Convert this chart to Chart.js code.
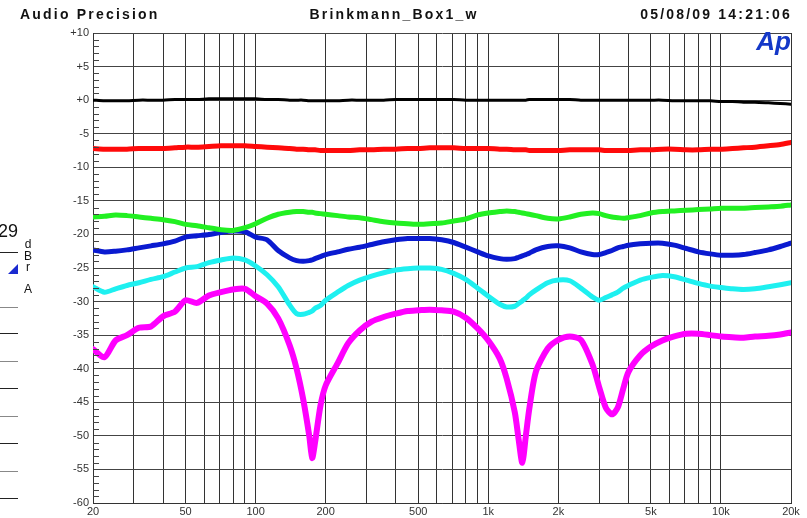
<!DOCTYPE html>
<html lang="en">
<head>
    <meta charset="UTF-8">
    <title>Brinkmann_Box1_w</title>
    <style>
        body {
            margin: 0;
            background: #fff;
            font-family: "Liberation Sans", Arial, sans-serif;
        }
        #wrap {
            position: relative;
            width: 807px;
            height: 518px;
        }
    </style>
</head>
<body>
    <div id="wrap">
        <canvas id="myChart" width="807" height="518"></canvas>
    </div>

    <script src="https://cdn.jsdelivr.net/npm/chart.js"></script>
    <script>
        // frequency points (Hz)
        const freqs = [20, 22.4, 25, 28, 31.5, 35.5, 40, 45, 50, 56, 63, 71, 80, 90, 100, 112, 125, 140, 150, 160,
            170, 175, 180, 190, 200, 225, 250, 280, 315, 355, 400, 450, 500, 560, 630, 710, 800, 900, 1000, 1120,
            1200, 1300, 1350, 1400, 1450, 1500, 1600, 1800, 2000, 2240, 2500, 2800, 3000, 3200, 3400, 3600, 3800, 4000,
            4500, 5000, 5600, 6300, 7100, 8000, 9000, 10000, 11200, 12500, 14000, 16000, 18000, 20000];

        // levels (dBr)
        const blackLevel = [0.0, -0.1, -0.1, -0.1, 0.0, 0.0, 0.0, 0.1, 0.1, 0.1, 0.2, 0.2, 0.2, 0.2, 0.2, 0.1, 0.1, 0.0, 0.0, 0.0,
            -0.1, -0.1, -0.1, -0.1, -0.1, -0.1, 0.0, 0.0, 0.0, 0.0, 0.1, 0.1, 0.1, 0.1, 0.1, 0.1, 0.0, 0.0, 0.0, 0.0,
            0.0, 0.0, 0.0, 0.0, 0.0, 0.1, 0.1, 0.1, 0.1, 0.1, 0.0, 0.0, 0.0, 0.0, 0.0, 0.0, 0.0, 0.0,
            0.0, 0.0, 0.0, -0.1, -0.1, -0.1, -0.1, -0.2, -0.2, -0.3, -0.3, -0.4, -0.5, -0.6];
        const redLevel = [-7.2, -7.3, -7.3, -7.3, -7.2, -7.2, -7.2, -7.1, -7.0, -7.0, -6.9, -6.8, -6.8, -6.8, -6.9, -7.0, -7.1, -7.2, -7.3, -7.3,
            -7.4, -7.4, -7.4, -7.5, -7.5, -7.5, -7.5, -7.4, -7.4, -7.3, -7.3, -7.2, -7.2, -7.1, -7.1, -7.1, -7.2, -7.2, -7.2, -7.3,
            -7.3, -7.4, -7.4, -7.4, -7.4, -7.5, -7.5, -7.5, -7.5, -7.4, -7.4, -7.4, -7.4, -7.5, -7.5, -7.5, -7.5, -7.5,
            -7.4, -7.4, -7.3, -7.3, -7.4, -7.4, -7.3, -7.3, -7.2, -7.1, -7.0, -6.8, -6.6, -6.3];
        const greenLevel = [-17.4, -17.3, -17.1, -17.2, -17.4, -17.6, -17.8, -18.1, -18.5, -18.7, -19.0, -19.3, -19.4, -19.0, -18.4, -17.6, -17.0, -16.7, -16.6, -16.6,
            -16.7, -16.7, -16.8, -16.9, -17.0, -17.2, -17.4, -17.5, -17.8, -18.1, -18.3, -18.4, -18.5, -18.4, -18.3, -18.0, -17.7, -17.1, -16.8, -16.6,
            -16.5, -16.6, -16.7, -16.8, -16.9, -17.0, -17.2, -17.6, -17.7, -17.4, -17.0, -16.8, -16.9, -17.2, -17.4, -17.5, -17.6, -17.5,
            -17.2, -16.8, -16.6, -16.5, -16.4, -16.3, -16.2, -16.1, -16.1, -16.1, -16.0, -15.9, -15.8, -15.6];
        const blueLevel = [-22.3, -22.6, -22.5, -22.3, -22.0, -21.7, -21.4, -21.0, -20.4, -20.2, -20.0, -19.7, -19.5, -19.6, -20.4, -20.8, -22.4, -23.5, -23.9, -24.0,
            -23.9, -23.8, -23.6, -23.3, -23.0, -22.6, -22.2, -21.9, -21.5, -21.1, -20.8, -20.6, -20.6, -20.6, -20.8, -21.2, -21.9, -22.6, -23.2, -23.6,
            -23.7, -23.6, -23.4, -23.2, -23.0, -22.8, -22.3, -21.8, -21.7, -22.0, -22.6, -23.0, -23.0, -22.7, -22.4, -22.0, -21.8, -21.6,
            -21.4, -21.3, -21.3, -21.6, -22.1, -22.6, -22.9, -23.1, -23.1, -23.0, -22.7, -22.3, -21.8, -21.3];
        const cyanLevel = [-27.8, -28.6, -28.1, -27.6, -27.2, -26.7, -26.3, -25.6, -25.0, -24.8, -24.2, -23.8, -23.5, -23.8, -24.7, -26.0, -27.8, -30.5, -31.8, -31.9,
            -31.6, -31.4, -31.0, -30.6, -29.8, -28.6, -27.6, -26.8, -26.2, -25.7, -25.3, -25.1, -25.0, -25.0, -25.2, -25.8, -26.7, -28.0, -29.2, -30.4,
            -30.8, -30.7, -30.3, -29.9, -29.5, -29.0, -28.3, -27.2, -26.8, -26.9, -28.0, -29.3, -29.8, -29.4, -29.0, -28.6, -28.0, -27.6,
            -26.8, -26.4, -26.1, -26.3, -26.8, -27.3, -27.7, -27.9, -28.1, -28.2, -28.1, -27.8, -27.5, -27.2];
        const magentaLevel = [-37.1, -38.3, -35.8, -35.0, -33.9, -33.7, -32.2, -31.5, -29.8, -30.2, -29.1, -28.6, -28.2, -28.1, -29.2, -30.3, -32.5, -36.5, -40.0, -44.5,
            -50.0, -53.3, -51.0, -45.5, -42.5, -39.2, -36.2, -34.3, -33.0, -32.3, -31.8, -31.4, -31.3, -31.2, -31.3, -31.5, -32.4, -34.0, -35.8, -38.5,
            -41.5, -46.5, -50.5, -54.0, -50.0, -46.0, -40.5, -37.0, -35.7, -35.2, -35.7, -39.3, -42.8, -45.8, -46.8, -45.8, -43.0, -40.5,
            -38.0, -36.7, -35.8, -35.2, -34.8, -34.8, -35.0, -35.2, -35.3, -35.4, -35.2, -35.1, -34.9, -34.6];

        // axis ticks
        const xGridTicks = [20, 30, 40, 50, 60, 70, 80, 90, 100, 200, 300, 400, 500, 600, 700, 800, 900,
            1000, 2000, 3000, 4000, 5000, 6000, 7000, 8000, 9000, 10000, 20000];
        const xLabels = {20: '20', 50: '50', 100: '100', 200: '200', 500: '500', 1000: '1k', 2000: '2k',
            5000: '5k', 10000: '10k', 20000: '20k'};

        const FONT = '"Liberation Sans", Arial, sans-serif';

        function series(levels, color, width) {
            return {
                data: freqs.map((f, i) => ({ x: f, y: levels[i] })),
                borderColor: color,
                borderWidth: width,
                pointRadius: 0,
                tension: 0.25,
                borderCapStyle: 'round',
                borderJoinStyle: 'round',
                fill: false
            };
        }

        // header text, Ap logo, minor ticks and the cut-off panel on the left
        const decor = {
            id: 'decor',
            afterDraw(chart) {
                const ctx = chart.ctx;
                const y = chart.scales.y;
                const area = chart.chartArea;
                ctx.save();

                // minor ticks every 1 dB, inside the plot
                ctx.strokeStyle = '#444';
                ctx.lineWidth = 1;
                for (let v = -60; v <= 10; v++) {
                    if (v % 5 === 0) continue;
                    const py = Math.round(y.getPixelForValue(v)) + 0.5;
                    ctx.beginPath();
                    ctx.moveTo(area.left, py);
                    ctx.lineTo(area.left + 6, py);
                    ctx.stroke();
                }

                ctx.fillStyle = '#111';
                ctx.textBaseline = 'middle';
                ctx.font = 'bold 14px ' + FONT;
                ctx.letterSpacing = '2.2px';
                ctx.textAlign = 'left';
                ctx.fillText('Audio Precision', 20, 15);
                ctx.textAlign = 'center';
                ctx.fillText('Brinkmann_Box1_w', 394, 15);
                ctx.textAlign = 'right';
                ctx.fillText('05/08/09 14:21:06', 792, 15);
                ctx.letterSpacing = '0px';

                ctx.fillStyle = '#1438c8';
                ctx.font = 'italic bold 26px ' + FONT;
                ctx.textAlign = 'right';
                ctx.fillText('Ap', 791, 43);

                // remains of the panel cut off at the left edge
                ctx.fillStyle = '#111';
                ctx.font = '18px ' + FONT;
                ctx.textAlign = 'left';
                ctx.fillText('29', -2, 232);
                ctx.font = '12px ' + FONT;
                ctx.textAlign = 'center';
                ctx.fillText('d', 28, 245);
                ctx.fillText('B', 28, 257);
                ctx.fillText('r', 28, 268);
                ctx.fillText('A', 28, 290);
                ctx.fillStyle = '#1a2ad0';
                ctx.beginPath();
                ctx.moveTo(8, 274);
                ctx.lineTo(18, 264);
                ctx.lineTo(18, 274);
                ctx.closePath();
                ctx.fill();
                [252, 307, 333, 361, 388, 416, 443, 471, 498].forEach((ly, i) => {
                    ctx.strokeStyle = i % 2 ? '#888' : '#222';
                    ctx.beginPath();
                    ctx.moveTo(0, ly + 0.5);
                    ctx.lineTo(18, ly + 0.5);
                    ctx.stroke();
                });
                ctx.restore();
            }
        };

        const ctx = document.getElementById('myChart').getContext('2d');
        const myChart = new Chart(ctx, {
            type: 'line',
            data: {
                datasets: [
                    series(magentaLevel, '#ff00ff', 6),
                    series(cyanLevel, '#1ef0f0', 5),
                    series(greenLevel, '#22f022', 5),
                    series(blueLevel, '#0a1ad0', 5),
                    series(redLevel, '#ff0a0a', 5),
                    series(blackLevel, '#000000', 3)
                ]
            },
            options: {
                responsive: false,
                animation: false,
                layout: { padding: { left: 0, top: 33, right: 16, bottom: 0 } },
                plugins: {
                    legend: { display: false },
                    tooltip: { enabled: false }
                },
                scales: {
                    x: {
                        type: 'logarithmic',
                        min: 20,
                        max: 20000,
                        afterBuildTicks: (scale) => {
                            scale.ticks = xGridTicks.map(v => ({ value: v }));
                        },
                        afterFit: (scale) => { scale.height = 15; },
                        border: { color: '#333' },
                        grid: { color: '#333', lineWidth: 1, drawTicks: false },
                        ticks: {
                            autoSkip: false,
                            maxRotation: 0,
                            padding: 2,
                            color: '#333',
                            font: { family: FONT, size: 11 },
                            callback: (v) => xLabels[v] || ''
                        }
                    },
                    y: {
                        min: -60,
                        max: 10,
                        afterFit: (scale) => { scale.width = 93; },
                        border: { color: '#333' },
                        grid: {
                            lineWidth: 1,
                            drawTicks: false,
                            color: (c) => (c.tick && c.tick.value % 5 === 0) ? '#444' : 'rgba(0,0,0,0)'
                        },
                        ticks: {
                            stepSize: 1,
                            autoSkip: false,
                            padding: 4,
                            color: '#333',
                            font: { family: FONT, size: 11 },
                            callback: (v) => v % 5 === 0 ? (v >= 0 ? '+' + v : String(v)) : ''
                        }
                    }
                }
            },
            plugins: [decor]
        });
    </script>
</body>
</html>
